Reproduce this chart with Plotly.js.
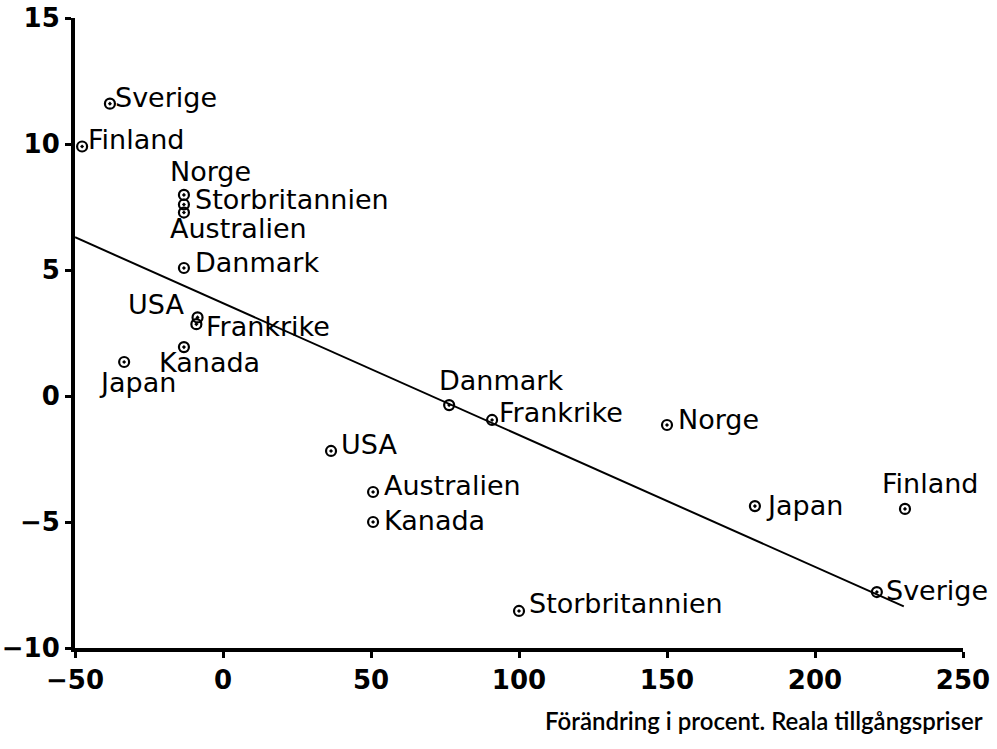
<!DOCTYPE html>
<html>
<head>
<meta charset="utf-8">
<script src="https://cdn.plot.ly/plotly-3.0.1.min.js"></script>
<style>html,body{margin:0;padding:0;background:#fff;}#chart{width:997px;height:749px;}</style>
</head>
<body>
<div id="chart"></div>
<script>
// Data
const countries = ["Sverige","Finland","Norge","Storbritannien","Australien","Danmark","USA","Frankrike","Kanada","Japan",
                   "Danmark","Frankrike","Norge","USA","Australien","Kanada","Storbritannien","Japan","Finland","Sverige"];
const xVals = [-38.2,-47.6,-13.2,-13.2,-13.2,-13.2,-9.0,-8.6,-13.2,-33.4,
               76.4,90.9,150.0,36.5,50.7,50.7,100.0,179.7,230.4,220.9];
const yVals = [11.6,9.9,7.98,7.6,7.28,5.08,2.85,3.12,1.94,1.35,
               -0.36,-0.95,-1.15,-2.18,-3.81,-5.0,-8.53,-4.37,-4.48,-7.78];
// Regression line endpoints
const fitX = [-50, 230];
const fitY = [6.3, -8.35];
const xTicks = [-50,0,50,100,150,200,250];
const yTicks = [-10,-5,0,5,10,15];
const xTitle = "Förändring i procent. Reala tillgångspriser";

// Label placement (pixel offsets, styling only)
const labelAnchor = ["left","left","left","left","left","left","right","left","left","left",
                     "left","left","left","left","left","left","left","left","left","left"];
const labelDx = [3,4,-16,9,-16,9,-10,6,-27,-27,  -12,5,9,8,9,9,8,9,-25,7];
const labelDy = [6,7,23,5,-16,5,20,-9,-15,-21,   25,7,5,6,7,2,7,1,25,2];

const font = "DejaVu Sans, Liberation Sans, sans-serif";

const traces = [
  {x: fitX, y: fitY, mode: "lines", type: "scatter",
   line: {color: "#000", width: 2}, hoverinfo: "skip", showlegend: false},
  {x: xVals, y: yVals, mode: "markers", type: "scatter",
   marker: {symbol: "circle-dot", size: 10, color: "rgba(0,0,0,0)", line: {color: "#000", width: 2.2}},
   showlegend: false}
];

const annotations = countries.map((c, i) => ({
  x: xVals[i], y: yVals[i], xref: "x", yref: "y", text: c, showarrow: false,
  xanchor: labelAnchor[i], yanchor: "middle", xshift: labelDx[i], yshift: labelDy[i],
  font: {family: font, size: 27, color: "#000"}
}));
annotations.push({
  x: 1, y: 0, xref: "paper", yref: "paper", yshift: -72, xanchor: "right", yanchor: "middle",
  xshift: 22, text: xTitle, showarrow: false,
  font: {family: "Lato, Open Sans, sans-serif", size: 24, color: "#000", weight: 600}
});

const tickFont = {family: font, size: 26, color: "#000", weight: "bold"};

const layout = {
  width: 997, height: 749,
  margin: {l: 75, r: 34, t: 18, b: 101},
  paper_bgcolor: "#fff", plot_bgcolor: "#fff",
  showlegend: false,
  xaxis: {range: [-50, 250], tickvals: xTicks, ticks: "outside", ticklen: 6, tickwidth: 3,
          tickcolor: "#000", showgrid: false, zeroline: false, showline: true, linewidth: 4,
          linecolor: "#000", tickfont: tickFont},
  yaxis: {range: [-10, 15], tickvals: yTicks, ticks: "outside", ticklen: 6, tickwidth: 3,
          tickcolor: "#000", showgrid: false, zeroline: false, showline: true, linewidth: 4,
          linecolor: "#000", tickfont: tickFont},
  annotations: annotations
};

Plotly.newPlot("chart", traces, layout, {displayModeBar: false, staticPlot: true});
</script>
</body>
</html>
